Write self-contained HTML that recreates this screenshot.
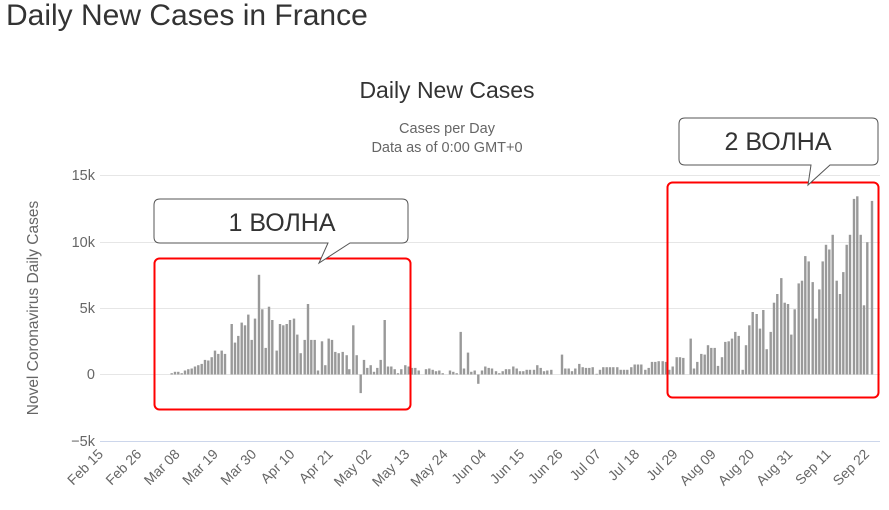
<!DOCTYPE html>
<html><head><meta charset="utf-8"><style>
body{margin:0;background:#fff;width:889px;height:505px;overflow:hidden;font-family:"Liberation Sans","DejaVu Sans",sans-serif}
</style></head><body>
<svg id="s" width="889" height="505" xmlns="http://www.w3.org/2000/svg" font-family="Liberation Sans, DejaVu Sans, sans-serif">
<text x="6" y="25" font-size="30" fill="#333">Daily New Cases in France</text>
<text x="447" y="98" font-size="23" fill="#333" text-anchor="middle">Daily New Cases</text>
<text x="447" y="133" font-size="14.5" fill="#666" text-anchor="middle">Cases per Day</text>
<text x="447" y="152" font-size="14.5" fill="#666" text-anchor="middle">Data as of 0:00 GMT+0</text>
<g stroke="#e6e6e6" stroke-width="1">
<line x1="100" y1="175.5" x2="880" y2="175.5"/><line x1="100" y1="242.5" x2="880" y2="242.5"/>
<line x1="100" y1="308.5" x2="880" y2="308.5"/><line x1="100" y1="374.5" x2="880" y2="374.5"/>
</g>
<line x1="100" y1="441.5" x2="880" y2="441.5" stroke="#ccd6eb" stroke-width="1"/>
<g font-size="14.5" fill="#666" text-anchor="end">
<text x="95" y="180">15k</text><text x="95" y="247">10k</text><text x="95" y="313">5k</text><text x="95" y="379">0</text><text x="95" y="446">−5k</text>
</g>
<text transform="translate(38,308) rotate(-90)" font-size="15.5" fill="#666" text-anchor="middle">Novel Coronavirus Daily Cases</text>
<g id="bars" fill="#999"></g>
<g id="xl" font-size="14" fill="#666" text-anchor="end"></g>
<rect x="154.5" y="258.5" width="256" height="151" rx="5" fill="none" stroke="#f00" stroke-width="2"/>
<rect x="667.5" y="182.5" width="211" height="215" rx="5" fill="none" stroke="#f00" stroke-width="2"/>
<path d="M160,199 H402 Q408,199 408,205 V237 Q408,243 402,243 H350 L319,263 L328,243 H160 Q154,243 154,237 V205 Q154,199 160,199 Z" fill="#fff" stroke="#555" stroke-width="1"/>
<text x="282" y="231" font-size="25" fill="#333" text-anchor="middle">1 ВОЛНА</text>
<path d="M685,118 H872 Q878,118 878,124 V159 Q878,165 872,165 H830 L808,185 L811,165 H685 Q679,165 679,159 V124 Q679,118 685,118 Z" fill="#fff" stroke="#555" stroke-width="1"/>
<text x="778" y="150" font-size="25" fill="#333" text-anchor="middle">2 ВОЛНА</text>
</svg>
<script>
var z1=[[335,.1],[345,.2],[355,.2],[365,.1],[375,.3],[385,.4],[395,.45],[405,.6],[415,.7],[425,.8],[435,1.1],[445,1.05],[455,1.3],[465,1.8],[475,1.55],[485,1.8],[495,1.55],[515,3.8],[525,2.4],[535,2.9],[545,3.9],[555,3.7],[565,4.5],[575,2.6],[585,4.2],[597,7.5],[607,4.9],[617,2.0],[627,5.1],[637,4.1],[650,1.8],[660,3.8],[670,3.7],[680,3.8],[690,4.1],[702,4.2],[712,3.0],[722,1.6],[734,2.6],[744,5.3],[754,2.6],[764,2.6],[774,.3],[786,2.5],[796,.7],[806,2.7],[816,2.6],[826,1.7],[836,1.6],[848,1.7],[860,1.45],[868,.4],[880,3.7],[890,1.45],[902,-1.4],[912,1.1],[922,.5],[932,.7],[942,.2],[952,.5],[962,1.1],[974,4.1],[984,.6],[994,.6],[1004,.4],[1014,.1],[1024,.4],[1036,.7],[1046,.6],[1056,.5],[1066,.5],[1076,.3],[1098,.4],[1108,.45],[1118,.35],[1128,.25],[1138,.3],[1148,.1],[1170,.3],[1180,.2],[1190,.1]];
var z2=[[2,3.2],[12,.45],[24,1.65],[34,.2],[44,.3],[55,-.7],[66,.3],[76,.6],[86,.5],[96,.45],[108,.25],[118,.1],[128,.25],[138,.4],[148,.4],[160,.6],[170,.45],[180,.25],[190,.25],[200,.35],[210,.35],[222,.35],[232,.7],[242,.5],[252,.25],[262,.3],[274,.35],[306,1.5],[316,.45],[326,.45],[336,.25],[346,.45],[358,.8],[368,.55],[378,.5],[388,.5],[398,.55],[410,.05],[420,.35],[430,.55],[440,.55],[450,.55],[460,.55],[472,.55],[482,.35],[492,.35],[502,.35],[514,.55],[524,.75],[534,.75],[544,.75],[556,.35],[566,.5],[576,.95],[586,.95],[596,1],[608,1],[618,.95],[628,.35],[638,.6],[650,1.3],[660,1.3],[670,1.25],[692,2.7],[702,.45],[712,.95],[724,1.55],[734,1.5],[744,2.2],[754,2],[764,2],[774,.65],[786,1.3],[796,2.45],[806,2.5],[816,2.7],[826,3.2],[836,2.9],[848,.35],[858,2.2],[868,3.7],[878,4.7],[890,4.55],[900,3.45],[910,4.85],[920,1.9],[932,3.2],[942,5.4],[952,6.05],[964,7.25],[974,5.4],[984,5.3],[994,3],[1004,4.9],[1016,6.85],[1026,7.05],[1036,8.9],[1046,8.5],[1058,6.95],[1068,4.2],[1078,6.4],[1088,8.5],[1098,9.75],[1108,9.4],[1118,10.5],[1130,7.05],[1140,6.05],[1150,7.7],[1160,9.75],[1170,10.5],[1182,13.2],[1192,13.4],[1202,10.5],[1212,5.2],[1222,9.95],[1236,13.05]];
var g=document.getElementById("bars"),h="";
function add(x,v){var y0=374.5,hh=v*13.3;var y=v>=0?y0-hh:y0;h+='<rect x="'+(x-1.2).toFixed(1)+'" y="'+y.toFixed(1)+'" width="2.4" height="'+Math.abs(hh).toFixed(1)+'"/>';}
z1.forEach(function(p){add(60+p[0]/3,p[1]);});z2.forEach(function(p){add(460+p[0]/3,p[1]);});
g.innerHTML=h;
var L=["Feb 15","Feb 26","Mar 08","Mar 19","Mar 30","Apr 10","Apr 21","May 02","May 13","May 24","Jun 04","Jun 15","Jun 26","Jul 07","Jul 18","Jul 29","Aug 09","Aug 20","Aug 31","Sep 11","Sep 22"],t="";
L.forEach(function(s,i){var x=104+i*38.3;t+='<text transform="translate('+x.toFixed(1)+',455) rotate(-45)">'+s+'</text>';});
document.getElementById("xl").innerHTML=t;
</script>
</body></html>
